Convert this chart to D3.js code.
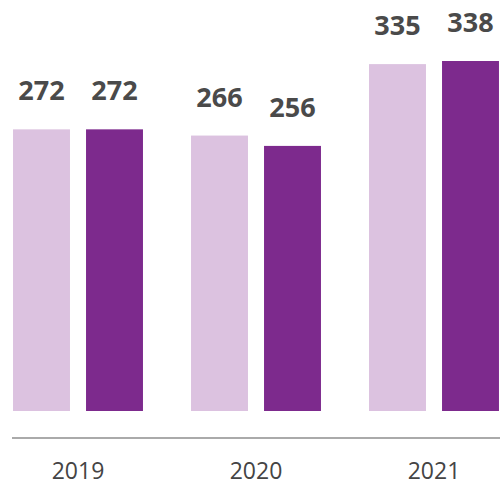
<!DOCTYPE html>
<meta charset="utf-8">
<script src="https://d3js.org/d3.v7.min.js"></script>
<style>
  body { margin: 0; background: #fff; }
  text { font-family: "Open Sans", sans-serif; }
</style>
<body>
<div id="my_dataviz"></div>
<script>
  // data
  var years = ["2019", "2020", "2021"];
  var seriesKeys = ["prev", "curr"];
  var prevValues = [272, 266, 335];
  var currValues = [272, 256, 338];
  var colors = ["#dcc2e0", "#7d2a8d"];

  var width = 500, height = 485;
  var baseY = 411, axisY = 438;

  var svg = d3.select("#my_dataviz")
    .append("svg")
    .attr("width", width)
    .attr("height", height);

  var data = years.map(function (y, i) {
    return { year: y, prev: prevValues[i], curr: currValues[i] };
  });

  // group scale
  var x0 = d3.scaleBand()
    .domain(years)
    .range([-11, 523])
    .paddingInner(0.27)
    .paddingOuter(0.135);

  // bar scale inside a group
  var x1 = d3.scaleBand()
    .domain(seriesKeys)
    .range([0, x0.bandwidth()])
    .paddingInner(0.22)
    .paddingOuter(0);

  var y = d3.scaleLinear()
    .domain([0, 338])
    .range([baseY, 61]);

  var color = d3.scaleOrdinal()
    .domain(seriesKeys)
    .range(colors);

  var groups = svg.append("g")
    .selectAll("g")
    .data(data)
    .enter().append("g")
    .attr("transform", function (d) { return "translate(" + x0(d.year) + ",0)"; });

  var cells = groups.selectAll("g")
    .data(function (d) { return seriesKeys.map(function (k) { return { key: k, value: d[k] }; }); })
    .enter().append("g");

  cells.append("rect")
    .attr("x", function (d) { return x1(d.key); })
    .attr("y", function (d) { return y(d.value); })
    .attr("width", x1.bandwidth())
    .attr("height", function (d) { return baseY - y(d.value); })
    .attr("fill", function (d) { return color(d.key); });

  cells.append("text")
    .attr("x", function (d) { return x1(d.key) + x1.bandwidth() / 2; })
    .attr("y", function (d) { return y(d.value) - 29; })
    .attr("text-anchor", "middle")
    .attr("font-size", "27px")
    .attr("font-weight", "bold")
    .attr("fill", "#4a4a4a")
    .text(function (d) { return d.value; });

  // baseline
  svg.append("line")
    .attr("x1", 12)
    .attr("x2", 500)
    .attr("y1", axisY)
    .attr("y2", axisY)
    .attr("stroke", "#aaaaaa")
    .attr("stroke-width", 2);

  // year labels
  svg.append("g")
    .selectAll("text")
    .data(years)
    .enter().append("text")
    .attr("x", function (d) { return x0(d) + x0.bandwidth() / 2; })
    .attr("y", 479)
    .attr("text-anchor", "middle")
    .attr("font-size", "23px")
    .attr("fill", "#444")
    .text(function (d) { return d; });
</script>
</body>
